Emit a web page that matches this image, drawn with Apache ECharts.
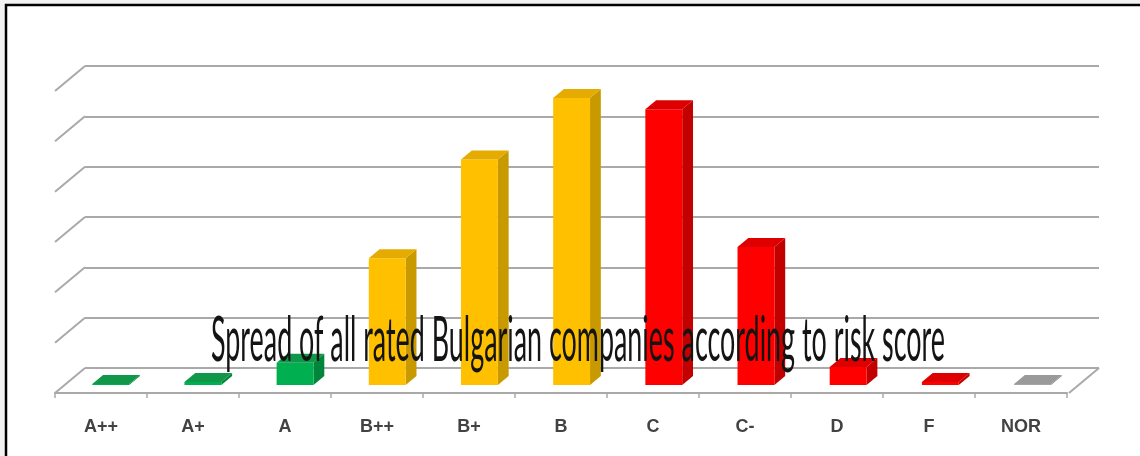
<!DOCTYPE html>
<html>
<head>
<meta charset="utf-8">
<script src="https://cdn.jsdelivr.net/npm/echarts@6/dist/echarts.min.js"></script>
<style>
  html, body { margin: 0; padding: 0; background: #f2f2f2; }
  #chart { width: 1140px; height: 456px; }
</style>
</head>
<body>
<div id="chart"></div>
<script>
// ---- data ----
const categories = ['A++', 'A+', 'A', 'B++', 'B+', 'B', 'C', 'C-', 'D', 'F', 'NOR'];
const shares = [0.1, 0.3, 2.2, 12.6, 22.4, 28.5, 27.4, 13.7, 1.8, 0.3, 0.1];
const colorGroups = ['green', 'green', 'green', 'yellow', 'yellow', 'yellow', 'red', 'red', 'red', 'red', 'gray'];
const gridTicks = [0, 5, 10, 15, 20, 25, 30];
const titleText = 'Spread of all rated Bulgarian companies according to risk score';

// ---- styles ----
const palette = {
  green:  { front: '#00b050', side: '#00853a', top: '#10974a' },
  yellow: { front: '#ffc000', side: '#c99a00', top: '#e6ab00' },
  red:    { front: '#ff0000', side: '#c20000', top: '#de0000' },
  gray:   { front: '#a6a6a6', side: '#7f7f7f', top: '#9a9a9a' }
};
const GRID_COLOR = '#a9a9a9';
const DEPTH = { dx: -30, dy: 25 };     // from back wall to front floor edge
const BAR_FRONT = 0.68, BAR_BACK = 0.32; // bar placement along depth

// title scaling (condensed look)
const TITLE_FONT_SIZE = 62;
const TITLE_FONT = TITLE_FONT_SIZE + 'px Lato';
const TITLE_WIDTH = 734;
const mctx = document.createElement('canvas').getContext('2d');
mctx.font = TITLE_FONT;
const titleScaleX = TITLE_WIDTH / mctx.measureText(titleText).width;

const chart = echarts.init(document.getElementById('chart'), null, { renderer: 'canvas' });

function renderBar(params, api) {
  const i = api.value(0), v = api.value(1);
  const base = api.coord([i, 0]);
  const top = api.coord([i, v]);
  const hw = api.size([1, 0])[0] * 0.2;
  const fx = DEPTH.dx * BAR_FRONT, fy = DEPTH.dy * BAR_FRONT;
  const bx = DEPTH.dx * BAR_BACK, by = DEPTH.dy * BAR_BACK;
  const ddx = bx - fx, ddy = by - fy;
  const xl = base[0] + fx - hw, xr = base[0] + fx + hw;
  const yb = base[1] + fy, yt = Math.min(top[1] + fy, yb - 1);
  const c = palette[colorGroups[params.dataIndex]];
  return {
    type: 'group',
    children: [
      { type: 'polygon', shape: { points: [[xr, yt], [xr + ddx, yt + ddy], [xr + ddx, yb + ddy], [xr, yb]] },
        style: { fill: c.side } },
      { type: 'rect', shape: { x: xl, y: yt, width: xr - xl, height: yb - yt },
        style: { fill: c.front } },
      { type: 'polygon', shape: { points: [[xl, yt], [xr, yt], [xr + ddx, yt + ddy], [xl + ddx, yt + ddy]] },
        style: { fill: c.top } }
    ]
  };
}

function renderDiag(params, api) {
  const v = api.value(1);
  const y = api.coord([0, v])[1];
  const cs = params.coordSys;
  const children = [
    { type: 'line', shape: { x1: cs.x, y1: y, x2: cs.x + DEPTH.dx, y2: y + DEPTH.dy },
      style: { stroke: GRID_COLOR, lineWidth: 2 } }
  ];
  if (v === 0) {
    children.push({ type: 'line',
      shape: { x1: cs.x + cs.width, y1: y, x2: cs.x + cs.width + DEPTH.dx, y2: y + DEPTH.dy },
      style: { stroke: GRID_COLOR, lineWidth: 2 } });
  }
  return { type: 'group', children };
}

const option = {
  animation: false,
  backgroundColor: '#f2f2f2',
  graphic: [
    { type: 'rect', z: -10, shape: { x: 6, y: 5, width: 1200, height: 500 },
      style: { fill: '#ffffff', stroke: '#000000', lineWidth: 2.5 } },
    { type: 'text', z: 100, x: 578, y: 341, scaleX: titleScaleX, scaleY: 1,
      style: { text: titleText, font: TITLE_FONT, fill: '#141414', align: 'center', verticalAlign: 'middle' } }
  ],
  grid: [
    { left: 85, top: 66, width: 1014, height: 302 },   // back wall
    { left: 55, top: 93, width: 1012, height: 300 }    // front floor edge
  ],
  xAxis: [
    { type: 'category', gridIndex: 0, data: categories, show: false },
    { type: 'category', gridIndex: 1, data: categories,
      axisLine: { show: true, lineStyle: { color: GRID_COLOR, width: 2 } },
      axisTick: { show: true, length: 5, interval: 0, lineStyle: { color: GRID_COLOR, width: 1.5 } },
      axisLabel: { interval: 0, margin: 25, fontFamily: 'Liberation Sans', fontSize: 18,
        fontWeight: 'bold', color: '#424242' },
      splitLine: { show: false } }
  ],
  yAxis: [
    { type: 'value', gridIndex: 0, min: 0, max: 30, interval: 5,
      axisLine: { show: false }, axisTick: { show: false }, axisLabel: { show: false },
      splitLine: { show: true, lineStyle: { color: GRID_COLOR, width: 2 } } },
    { type: 'value', gridIndex: 1, min: 0, max: 30, show: false, splitLine: { show: false } }
  ],
  series: [
    { type: 'custom', xAxisIndex: 0, yAxisIndex: 0, renderItem: renderDiag, z: 1,
      data: gridTicks.map(v => [0, v]), silent: true },
    { type: 'custom', xAxisIndex: 0, yAxisIndex: 0, renderItem: renderBar, z: 5,
      data: shares.map((v, i) => [i, v]), silent: true }
  ]
};
chart.setOption(option);
</script>
</body>
</html>
